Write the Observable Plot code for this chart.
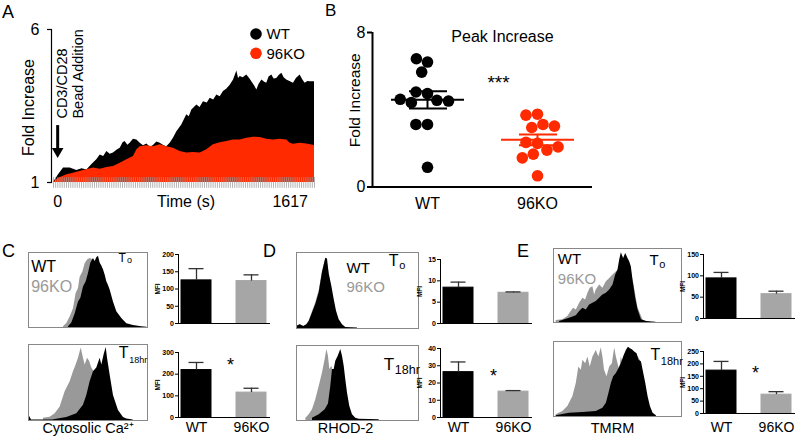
<!DOCTYPE html>
<html><head><meta charset="utf-8">
<script src="https://cdn.jsdelivr.net/npm/d3@7"></script>
<script src="https://cdn.jsdelivr.net/npm/@observablehq/plot@0.6"></script>
<style>
body{margin:0;background:#fff;}
#fig{position:relative;width:800px;height:438px;overflow:hidden;font-family:"Liberation Sans",Arial,Helvetica,sans-serif;}
</style></head><body><div id="fig"></div>
<script>
// ---------- DATA ----------
const groups = ["WT", "96KO"];
// Panel A: calcium time course (time in s, fold increase)
const wtTime = [-29,6,41,87,133,170,203,240,272,296,320,342,365,388,412,435,455,469,488,504,527,551,574,597,620,645,666,690,713,740,759,782,805,829,863,898,915,933,968,990,1014,1040,1061,1085,1107,1130,1153,1175,1200,1223,1246,1258,1269,1290,1315,1335,1350,1370,1385,1400,1420,1440,1454,1470,1489,1505,1524,1540,1559,1575,1593,1615,1640,1660,1686,1705,1721,1740,1756,1786];
const wtFold = [1.0,1.25,1.47,1.47,1.39,1.45,1.41,1.6,1.74,1.9,1.85,2.01,1.92,1.96,2.05,2.12,2.3,2.34,2.22,2.28,2.41,2.39,2.28,2.2,2.26,2.15,2.21,2.32,2.28,2.2,2.17,2.28,2.45,2.66,2.88,3.21,3.15,3.37,3.53,3.45,3.64,3.6,3.75,3.7,3.86,3.8,3.97,4.05,4.18,4.35,4.64,4.4,4.46,4.42,4.51,4.4,4.29,4.15,4.02,4.2,4.35,4.28,4.24,4.45,4.51,4.38,4.4,4.5,4.57,4.42,4.35,4.3,4.24,4.4,4.51,4.35,4.24,4.3,4.29,4.29];
const koTime = [-29,6,35,64,110,180,249,296,342,388,435,481,527,551,574,620,666,713,759,805,852,898,944,991,1037,1083,1130,1176,1223,1269,1315,1362,1408,1454,1501,1547,1593,1617,1640,1686,1733,1786];
const koFold = [1.0,1.14,1.2,1.25,1.3,1.39,1.47,1.43,1.49,1.52,1.63,1.74,1.85,2.07,2.17,2.2,2.17,2.23,2.17,2.12,2.01,1.96,1.98,1.96,2.07,2.23,2.3,2.34,2.39,2.39,2.45,2.48,2.47,2.41,2.39,2.41,2.39,2.28,2.25,2.28,2.26,2.21];
const timeTickLabels = [0, 1617];
const foldTickLabels = [1, 6];
const beadAddition = {t: 0, top: 2.86, tip: 1.82};
// Panel B: peak fold increase per cell
const wtPeak = [6.47,6.64,5.95,4.84,4.92,4.49,4.37,4.45,4.54,3.24,3.24,1.02];
const koPeak = [3.77,3.72,3.24,3.08,3.15,2.26,2.31,1.91,1.70,1.51,2.08,0.58];
const peakTickLabels = [0, 8];
// Panels C-E: flow histograms [channel %, count %]
const caT0WT = [[33.6,1],[36.4,6],[39.2,18],[42,34],[44,39],[46.2,54],[48.5,61],[50.4,72],[52.4,86],[54.6,92],[56,88],[57.4,93],[58.8,95],[60.2,86],[61.6,82],[63,77],[64.4,70],[65.8,61],[67.2,56],[68.6,50],[71.4,34],[74.2,21],[78.4,12],[82.6,5],[88.2,2.7],[95,1],[99.5,0.5]];
const caT0KO = [[29.4,1],[32.2,5.4],[35,14],[37.8,25],[40,45],[42,52],[43.4,67],[45.7,74],[47.6,85],[49.6,90],[51.8,92],[54.6,90],[57.4,85],[60,72],[63,58],[65.8,45],[68.6,30],[72,15],[76,6],[82,2],[88,0.5]];
const caT18WT = [[0,3],[1.2,5],[2.5,0.5],[20,0.5],[32.2,4],[40.6,9],[46.2,20],[49,33],[51.8,51],[54.6,64],[57.4,69],[60.2,82],[61.6,73],[63.6,87],[65.3,96],[66.4,82],[68.6,60],[71.4,33],[75.6,13],[79.8,4],[82.6,2],[88,0.5]];
const caT18KO = [[12.6,3],[18.2,4.4],[22.4,8.9],[26.6,17.8],[30.8,37.8],[35,51],[37.8,64],[40,73],[42,82],[44.3,95.5],[46.2,82],[47.6,73],[49.6,82],[51.3,78],[53.2,69],[55.2,64],[57.4,56],[60.2,45],[63,30],[65.8,15],[68.6,6],[72.8,2],[77,0.5]];
const rhT0WT = [[0,2.7],[3,4.9],[6,2.7],[8.5,4.9],[10.4,9.3],[13.1,20.4],[15.8,31.6],[18.6,47],[21.3,73.8],[23.5,89.3],[24,92.4],[25.4,91.6],[26.8,71.6],[28.9,56],[30.9,38.2],[32.8,22.7],[35,11.6],[37.7,4.9],[40.4,1.3],[50,0.5]];
const rhT0KO = [[0,2.7],[3,4.9],[6,2.7],[8.5,5],[10.4,10],[13.1,22],[15.8,34],[18.6,50],[21.3,75],[23.5,88],[24.5,90],[26,80],[28,60],[30,40],[32,22],[34,10],[37,4],[40,1]];
const rhT18WT = [[13.1,3.1],[18.6,7.6],[23.5,14.3],[26.2,22],[28.1,45.5],[29.5,67.9],[30.9,67.9],[32.2,79],[34.2,85.7],[36.3,94.6],[37.7,85.7],[39.1,72.3],[40.4,54.5],[41.8,36.6],[43.7,18.7],[45.9,7.6],[48.6,3.1],[51.4,1.8],[67.8,0.9]];
const rhT18KO = [[7.7,3.1],[10.4,7.6],[13.1,14.3],[15.8,27.7],[18.6,45.5],[21.3,63.3],[23.5,81.3],[24.9,94.6],[26.2,85.7],[27.3,67.9],[29,72.3],[30.1,63.3],[32,45],[34,25],[36,10],[38,3],[40,0.5]];
const tmT0WT = [[4.7,1.3],[12.5,5.8],[17.8,9],[20.4,14.8],[23,19.3],[25.6,17],[28.2,23.8],[30.8,26],[33.4,28.3],[36,32.7],[38.6,37.2],[41.3,39.5],[43.9,43.9],[46.5,50.7],[48.6,64.1],[50.4,70.9],[51.7,84.3],[53,94.2],[54.8,86.5],[56.4,93.3],[58.2,86.5],[59.5,82],[60.8,75.3],[62.1,57.4],[64.2,32.7],[66.1,17],[68.7,3.6],[72.6,1.3],[80,0.5]];
const tmT0KO = [[2.1,2.7],[7.3,3.6],[11.2,8.1],[13.8,14.8],[15.7,19.3],[17.8,17],[20.4,26],[23,32.7],[25.1,30.5],[26.9,39.5],[28.7,46.2],[30.8,48.4],[32.1,37.2],[33.4,43.9],[36,50.7],[38.6,46.2],[41.3,55.2],[43.9,59.6],[46.5,64.1],[50,70],[55,80],[60,75],[63,50],[66,20],[70,3],[75,0.5]];
const tmT18WT = [[2.1,0.9],[12.5,4.4],[23,5.3],[33.4,6.6],[38.6,11],[41.3,17.6],[43.3,30.8],[45.2,44],[47,52.9],[49.1,57.3],[51.2,63.9],[53,70.5],[54.8,79.3],[56.9,88.1],[58.5,92.5],[60.1,90.3],[61.6,89],[63.4,85.9],[65.3,83.7],[66.8,74.9],[68.7,72.7],[70,61.7],[72.1,44],[73.9,26.4],[75.7,13.2],[77.8,4.4],[80.4,0.9]];
const tmT18KO = [[2.1,2.2],[7.3,6.6],[11.2,13.2],[15.1,26.4],[17.8,44],[19.8,66.1],[21.7,61.7],[23,74.9],[25.1,70.5],[26.9,79.3],[28.7,66.1],[30.8,79.3],[33.4,88.1],[35.5,79.3],[37.3,91.6],[38.6,79.3],[39.9,61.7],[41.8,52.9],[43.9,66.1],[46,70.5],[47.8,91.2],[49.1,79.3],[51.7,61.7],[53,79.3],[54.3,70.5],[55.6,83.7],[58.2,75],[62.1,80],[66.1,80],[68.7,72],[71.3,45],[73.9,20],[76.5,5],[79.1,1]];
// MFI bar charts (mean, SEM)
const caT0Mean = [125, 123], caT0Err = [34, 18];
const caT18Mean = [219, 115], caT18Err = [35, 20];
const rhT0Mean = [8.4, 7.2], rhT0Err = [1.3, 0.2];
const rhT18Mean = [26.3, 15.0], rhT18Err = [5.9, 0.6];
const tmT0Mean = [94, 57], tmT0Err = [14, 7];
const tmT18Mean = [173, 76], tmT18Err = [37, 12];
const caT0Ticks = [0,50,100,150,200], caT18Ticks = [0,100,200,300];
const rhT0Ticks = [0,5,10,15], rhT18Ticks = [0,10,20,30,40];
const tmT0Ticks = [0,50,100,150], tmT18Ticks = [0,50,100,150,200,250];

// ---------- STYLE / HELPERS ----------
const RED = "#ff2a00", HGRAY = "#999999", BGRAY = "#a6a6a6";
const FONT = "font-family:'Liberation Sans',Arial,Helvetica,sans-serif;background:transparent;overflow:visible;";
const fig = document.getElementById("fig");
function place(svg, left, top) {
  svg.style.position = "absolute"; svg.style.left = left + "px"; svg.style.top = top + "px";
  svg.style.maxWidth = "none";
  fig.appendChild(svg);
}

// ---------- PANEL A ----------
const wtSeries = wtTime.map((t, i) => ({t, v: wtFold[i]}));
const koSeries = koTime.map((t, i) => ({t, v: koFold[i]}));
const hatch = d3.range(-29, 1787, 15);
place(Plot.plot({
  width: 330, height: 215, marginLeft: 51, marginRight: 16, marginTop: 29, marginBottom: 33, insetLeft: 2,
  style: FONT,
  x: {domain: [-29, 1786], axis: null},
  y: {domain: [1, 6], axis: null},
  marks: [
    Plot.areaY(wtSeries, {x: "t", y1: 1, y2: "v", fill: "#000", curve: "linear"}),
    Plot.areaY(koSeries, {x: "t", y1: 1, y2: "v", fill: RED, curve: "linear"}),
    Plot.ruleX(hatch, {x: d => d, y1: 0.81, y2: 1.16, stroke: "#999", strokeOpacity: 0.75, strokeWidth: 1}),
    Plot.frame({anchor: "left", strokeWidth: 1.2}),
    Plot.axisY({ticks: foldTickLabels, tickSize: 4, tickPadding: 8, fontSize: 16, strokeWidth: 1.2, tickFormat: d => String(d), label: null}),
    Plot.axisX({ticks: timeTickLabels, tickSize: 0, tickPadding: 13, fontSize: 16, tickFormat: d => String(d), label: null}),
    Plot.text(["Time (s)"], {frameAnchor: "bottom", dx: 3, dy: 19, fontSize: 16, textAnchor: "middle", lineAnchor: "middle"}),
    Plot.text(["Fold Increase"], {frameAnchor: "left", dx: -23, dy: 1.5, rotate: -90, textAnchor: "middle", lineAnchor: "middle", fontSize: 16}),
    Plot.ruleX([beadAddition], {x: "t", y1: "top", y2: "tip", strokeWidth: 3, insetBottom: 6}),
    Plot.dot([beadAddition], {x: "t", y: "tip", symbol: "triangle", rotate: 180, r: 4.3, fill: "#000", stroke: "none", dy: -6}),
    Plot.text([beadAddition], {x: "t", y: "top", text: () => "CD3/CD28", rotate: -90, textAnchor: "start", lineAnchor: "middle", dx: 4.5, dy: -7, fontSize: 14.5}),
    Plot.text([beadAddition], {x: "t", y: "top", text: () => "Bead Addition", rotate: -90, textAnchor: "start", lineAnchor: "middle", dx: 20.5, dy: -7, fontSize: 14.5})
  ]
}), 0, 0);

// ---------- PANEL B ----------
const peaks = [...wtPeak.map(v => ({group: "WT", v})), ...koPeak.map(v => ({group: "96KO", v}))];
const stats = groups.map(g => {
  const v = g === "WT" ? wtPeak : koPeak;
  const m = d3.mean(v), se = d3.deviation(v) / Math.sqrt(v.length);
  return {group: g, mean: m, lo: m - se, hi: m + se};
});
place(Plot.plot({
  width: 270, height: 215, marginLeft: 42, marginRight: 8, marginTop: 32, marginBottom: 28.5,
  style: FONT,
  fx: {domain: groups, padding: 0, label: null, axis: null},
  x: {domain: [-1, 1], axis: null},
  y: {domain: [0, 8], axis: null},
  color: {domain: groups, range: ["#000", RED]},
  marks: [
    Plot.ruleY([0], {strokeWidth: 2}),
    Plot.ruleX([0], {fx: () => "WT", x: -1, y1: 0, y2: 8, strokeWidth: 2}),
    Plot.axisY({ticks: peakTickLabels, tickSize: 5, tickPadding: 2, fontSize: 16, strokeWidth: 2, tickFormat: d => String(d), label: null}),
    Plot.axisFx({anchor: "bottom", tickSize: 0, tickPadding: 11, fontSize: 16, label: null}),
    Plot.text(["Fold Increase"], {fx: () => "WT", frameAnchor: "left", dx: -17, dy: -9.5, rotate: -90, textAnchor: "middle", lineAnchor: "middle", fontSize: 15.5}),
    Plot.text(["Peak Increase"], {fx: () => "WT", frameAnchor: "top-left", dx: 130, dy: 4, textAnchor: "middle", lineAnchor: "middle", fontSize: 16}),
    Plot.text(["***"], {fx: () => "WT", frameAnchor: "top-left", dx: 126, dy: 50.5, textAnchor: "middle", lineAnchor: "middle", fontSize: 19}),
    Plot.dot(peaks, Plot.dodgeX({anchor: "middle", padding: 0}, {fx: "group", y: "v", r: 5.8, fill: "group", stroke: "none"})),
    Plot.ruleY(stats, {fx: "group", y: "mean", stroke: "group", strokeWidth: 2, insetLeft: 19, insetRight: 18}),
    Plot.ruleY(stats, {fx: "group", y: "lo", stroke: "group", strokeWidth: 2, insetLeft: 37, insetRight: 35}),
    Plot.ruleY(stats, {fx: "group", y: "hi", stroke: "group", strokeWidth: 2, insetLeft: 37, insetRight: 35}),
    Plot.ruleX(stats, {fx: "group", x: 0, y1: "lo", y2: "hi", stroke: "group", strokeWidth: 2})
  ]
}), 330, 0);

// ---------- HISTOGRAMS ----------
function hist(box, wt, ko, labels, bottom) {
  const extra = bottom ? 22 : 0;
  const marks = [
    Plot.areaY(ko, {x: d => d[0], y: d => d[1], fill: HGRAY, curve: "linear"}),
    Plot.areaY(wt, {x: d => d[0], y: d => d[1], fill: "#000", curve: "linear"}),
    Plot.frame({stroke: "#888", strokeWidth: 1})
  ];
  for (const l of labels) marks.push(Plot.text([l.text], {frameAnchor: "top-left", dx: l.dx, dy: l.dy, textAnchor: "start", lineAnchor: "middle", fontSize: l.size, fill: l.color || "#000"}));
  if (bottom) marks.push(Plot.text([bottom.text], {frameAnchor: "bottom", dx: bottom.dx, dy: bottom.dy, textAnchor: "middle", lineAnchor: "middle", fontSize: 14.5}));
  place(Plot.plot({
    width: box.w + 2, height: box.h + 2 + extra, marginTop: 1, marginLeft: 1, marginRight: 1, marginBottom: 1 + extra,
    style: FONT,
    x: {domain: [0, 100], axis: null}, y: {domain: [0, 100], axis: null},
    marks
  }), box.x - 1, box.y - 1);
}
const legendLbl = (dx, dy1, dy2, size) => [
  {text: "WT", dx, dy: dy1, size},
  {text: "96KO", dx, dy: dy2, size, color: HGRAY}
];
hist({x: 28, y: 252, w: 119, h: 75}, caT0WT, caT0KO,
  [...legendLbl(2.7, 14.8, 34.8, 16), {text: "T", dx: 90, dy: 5.5, size: 12}, {text: "o", dx: 98.5, dy: 8, size: 9}]);
hist({x: 28, y: 344, w: 119, h: 76}, caT18WT, caT18KO,
  [{text: "T", dx: 90.3, dy: 8.5, size: 16}, {text: "18hr", dx: 100.8, dy: 16, size: 9}],
  {text: "Cytosolic Ca²⁺", dx: 0, dy: 8});
hist({x: 296, y: 252, w: 122, h: 76}, rhT0WT, rhT0KO,
  [...legendLbl(50, 16, 35, 15), {text: "T", dx: 92.3, dy: 8, size: 16}, {text: "o", dx: 102.8, dy: 12.5, size: 11}]);
hist({x: 296, y: 345, w: 122, h: 75}, rhT18WT, rhT18KO,
  [{text: "T", dx: 87.3, dy: 19, size: 17}, {text: "18hr", dx: 98.3, dy: 24, size: 12.5}],
  {text: "RHOD-2", dx: -12, dy: 8});
hist({x: 553, y: 248, w: 128, h: 74}, tmT0WT, tmT0KO,
  [...legendLbl(4.3, 11, 31, 15), {text: "T", dx: 96, dy: 12, size: 15}, {text: "o", dx: 105.8, dy: 16, size: 11}]);
hist({x: 553, y: 341, w: 128, h: 75}, tmT18WT, tmT18KO,
  [{text: "T", dx: 97, dy: 13.7, size: 16}, {text: "18hr", dx: 107.3, dy: 19.5, size: 11}],
  {text: "TMRM", dx: -5, dy: 11.5});

// ---------- BAR CHARTS ----------
function bars(pos, mean, err, ticks, opts = {}) {
  const data = groups.map((g, i) => ({group: g, mean: mean[i], hi: mean[i] + err[i]}));
  const mb = opts.labels ? 26 : 4;
  const marks = [
    Plot.barY(data, {x: "group", y: "mean", fill: "group", stroke: "group", strokeWidth: 1}),
    Plot.ruleX(data, {x: "group", y1: "mean", y2: "hi", stroke: "#333", strokeWidth: 1.3}),
    Plot.tickY(data, {x: "group", y: "hi", stroke: "#333", strokeWidth: 1.3, insetLeft: 7.5, insetRight: 7.5}),
    Plot.ruleY([0], {stroke: "#000", strokeWidth: 1}),
    Plot.frame({anchor: "left", stroke: "#000", strokeWidth: 1}),
    Plot.axisY({ticks, tickSize: 3, tickPadding: 1.5, fontSize: 7, fontWeight: "bold", strokeWidth: 1, tickFormat: d => String(d), label: null}),
    Plot.text(["MFI"], {frameAnchor: "left", dx: -21, rotate: -90, textAnchor: "middle", lineAnchor: "middle", fontSize: 6.5, fontWeight: "bold"})
  ];
  if (opts.labels) marks.push(Plot.axisX({tickSize: 0, tickPadding: 421.7 - pos.y0, fontSize: 14, label: null}));
  if (opts.star) marks.push(Plot.text(["*"], {frameAnchor: "top-left", dx: opts.star[0], dy: opts.star[1], textAnchor: "middle", lineAnchor: "middle", fontSize: 18}));
  place(Plot.plot({
    width: 138, height: (pos.y0 - pos.yTop) + 8 + mb, marginLeft: 40, marginRight: 6, marginTop: 8, marginBottom: mb,
    style: FONT,
    x: {domain: groups, paddingInner: 0.45, paddingOuter: 0.06, axis: null},
    y: {domain: [0, ticks[ticks.length - 1]], axis: null},
    color: {domain: groups, range: ["#000", BGRAY]},
    marks
  }), pos.ax - 40, pos.yTop - 8);
}
bars({ax: 178, y0: 323, yTop: 254}, caT0Mean, caT0Err, caT0Ticks);
bars({ax: 178, y0: 417, yTop: 352}, caT18Mean, caT18Err, caT18Ticks, {labels: true, star: [52, 13]});
bars({ax: 440, y0: 323, yTop: 259}, rhT0Mean, rhT0Err, rhT0Ticks);
bars({ax: 440, y0: 417, yTop: 348}, rhT18Mean, rhT18Err, rhT18Ticks, {labels: true, star: [53, 27.5]});
bars({ax: 703, y0: 318, yTop: 254}, tmT0Mean, tmT0Err, tmT0Ticks);
bars({ax: 703, y0: 413, yTop: 351}, tmT18Mean, tmT18Err, tmT18Ticks, {labels: true, star: [52, 21.5]});

// ---------- OVERLAY: panel letters & legend ----------
const ov = d3.select(fig).append("svg").attr("width", 800).attr("height", 438)
  .style("position", "absolute").style("left", "0px").style("top", "0px").style("overflow", "visible")
  .style("font-family", "'Liberation Sans',Arial,Helvetica,sans-serif");
const letters = [["A", 2, 18, 18], ["B", 325, 16, 17], ["C", 2, 257, 18], ["D", 263, 257, 18], ["E", 517, 257, 18]];
ov.selectAll("text.letter").data(letters).join("text").attr("class", "letter")
  .attr("x", d => d[1]).attr("y", d => d[2]).attr("font-size", d => d[3]).text(d => d[0]);
const legend = ov.append("g");
[["WT", "#000", 34, 39.3], ["96KO", RED, 53.3, 59.3]].forEach(([t, c, cy, by]) => {
  legend.append("circle").attr("cx", 256).attr("cy", cy).attr("r", 5.8).attr("fill", c);
  legend.append("text").attr("x", 266.5).attr("y", by).attr("font-size", 15).text(t);
});
</script></body></html>
